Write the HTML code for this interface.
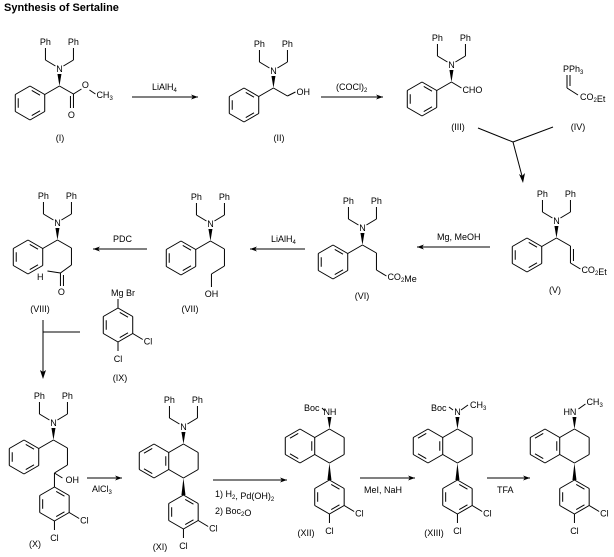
<!DOCTYPE html>
<html><head><meta charset="utf-8"><style>
html,body{margin:0;padding:0;background:#fff;}
svg{display:block;}
text{font-family:"Liberation Sans",sans-serif;font-size:9px;fill:#000;}
</style></head><body>
<svg id="s" width="614" height="557" xmlns="http://www.w3.org/2000/svg">
<text x="4" y="11" style="font-weight:bold;font-size:11px">Synthesis of Sertaline</text>
</svg>
<script>
const S=document.getElementById('s');const NS='http://www.w3.org/2000/svg';
function el(t,a,txt){const e=document.createElementNS(NS,t);for(const k in a)e.setAttribute(k,a[k]);if(txt!==undefined)e.innerHTML=txt;S.appendChild(e);return e;}
function L(x1,y1,x2,y2,w){el('line',{x1,y1,x2,y2,stroke:'#000','stroke-width':w||1});}
function PL(pts){for(let i=0;i<pts.length-1;i++)L(pts[i][0],pts[i][1],pts[i+1][0],pts[i+1][1]);}
function T(x,y,s,a){el('text',{x,y,'text-anchor':a||'start'},s);}
function sub(s){return '<tspan font-size="6" dy="2">'+s+'</tspan><tspan dy="-2"></tspan>';}
const R=17,H=R*Math.sqrt(3)/2;
function hexV(cx,cy){const v=[];for(let i=0;i<6;i++){const a=(-90+60*i)*Math.PI/180;v.push([cx+R*Math.cos(a),cy+R*Math.sin(a)]);}return v;}
function hex(cx,cy,inner,skip){const v=hexV(cx,cy);for(let i=0;i<6;i++){if(skip&&skip.includes(i))continue;const a=v[i],b=v[(i+1)%6];L(a[0],a[1],b[0],b[1]);}
 (inner||[]).forEach(i=>{const a=v[i],b=v[(i+1)%6];const f=0.2;let a2=[a[0]+(cx-a[0])*f,a[1]+(cy-a[1])*f],b2=[b[0]+(cx-b[0])*f,b[1]+(cy-b[1])*f];const t=0.15;const dx=b2[0]-a2[0],dy=b2[1]-a2[1];L(a2[0]+dx*t,a2[1]+dy*t,b2[0]-dx*t,b2[1]-dy*t);});return v;}
function wedge(x1,y1,x2,y2,w){const dx=x2-x1,dy=y2-y1,l=Math.hypot(dx,dy),nx=-dy/l*w/2,ny=dx/l*w/2;el('polygon',{points:`${x1},${y1} ${x2+nx},${y2+ny} ${x2-nx},${y2-ny}`,fill:'#000'});}
function dibenzyl(nx,ny){T(nx,ny+3,'N','middle');PL([[nx-4,ny-3],[nx-14,ny-9],[nx-14,ny-21]]);PL([[nx+4,ny-3],[nx+14,ny-9],[nx+14,ny-21]]);T(nx-14,ny-24,'Ph','middle');T(nx+14,ny-24,'Ph','middle');}
function stereo(cx,cy){hex(cx,cy,[0,2,4]);const C=[cx+2*H,cy-R];L(cx+H,cy-R/2,C[0],C[1]);wedge(C[0],C[1],C[0],C[1]-12,4);dibenzyl(C[0],C[1]-17);return C;}
function arrow(x1,y,x2){L(x1,y,x2,y);const d=x2>x1?1:-1;el('polygon',{points:`${x2},${y} ${x2-7*d},${y-2.5} ${x2-5*d},${y} ${x2-7*d},${y+2.5}`,fill:'#000'});}
function dcp(cx,top){const cy=top+R;const v=hex(cx,cy,[0,2,4]);L(v[2][0],v[2][1],v[2][0]+10,v[2][1]+6);T(v[2][0]+11,v[2][1]+11,'Cl');L(v[3][0],v[3][1],v[3][0],v[3][1]+9);T(v[3][0],v[3][1]+20,'Cl','middle');}
function fused(cx,cy){hex(cx,cy,[5,3,1]);const v=hexV(cx+2*H,cy);hex(cx+2*H,cy,[],[4]);return [v[0],v[3]];}
// I
let C=stereo(30,103);PL([[C[0],C[1]],[C[0]+14,C[1]+8]]);let E=[C[0]+14,C[1]+8];L(E[0],E[1],E[0],E[1]+14);L(E[0]-3,E[1]+2,E[0]-3,E[1]+14);T(E[0]-2,E[1]+24,'O','middle');L(E[0],E[1],E[0]+8,E[1]-5);T(E[0]+12,E[1]-6,'O','middle');L(E[0]+16,E[1]-4,E[0]+22,E[1]);T(E[0]+23,E[1]+4,'CH'+sub('3'));
T(60,141,'(I)','middle');
arrow(132,97,198);T(152,90,'LiAlH'+sub('4'));
// II
C=stereo(244,105);PL([[C[0],C[1]],[C[0]+14,C[1]+8],[C[0]+22,C[1]+4]]);T(C[0]+23,C[1]+7,'OH');T(279,141,'(II)','middle');
arrow(321,97,383);T(336,90,'(COCl)'+sub('2'));
// III
C=stereo(422,99);L(C[0],C[1],C[0]+10,C[1]+6);T(C[0]+11,C[1]+11,'CHO');T(458,130,'(III)','middle');
// IV
T(563,72,'PPh'+sub('3'));L(567,75,567,88);L(570,75,570,86);L(567,88,578,95);T(580,100,'CO'+sub('2')+'Et');T(578,130,'(IV)','middle');
// converging
L(478,128,513,142);L(553,127,513,142);L(513,142,522,176);el('polygon',{points:'523,183 519,174 522,176 525,173',fill:'#000'});
// V
C=stereo(527,255);PL([[C[0],C[1]],[C[0]+14,C[1]+8],[C[0]+14,C[1]+25],[C[0]+24,C[1]+31]]);L(C[0]+17,C[1]+11,C[0]+17,C[1]+23);T(C[0]+25,C[1]+35,'CO'+sub('2')+'Et');T(555,293,'(V)','middle');
arrow(490,247,417);T(437,240,'Mg,  MeOH');
// VI
C=stereo(333,262);PL([[C[0],C[1]],[C[0]+14,C[1]+8],[C[0]+14,C[1]+25],[C[0]+24,C[1]+31]]);T(C[0]+25,C[1]+35,'CO'+sub('2')+'Me');T(362,299,'(VI)','middle');
arrow(305,249,250);T(271,242,'LiAlH'+sub('4'));
// VII
C=stereo(181,258);PL([[C[0],C[1]],[C[0]+14,C[1]+8],[C[0]+14,C[1]+25],[C[0]+1,C[1]+33],[C[0]+1,C[1]+46]]);T(C[0]+1,C[1]+56,'OH','middle');T(190,312,'(VII)','middle');
arrow(147,249,93);T(113,242,'PDC');
// VIII
C=stereo(28,257);PL([[C[0],C[1]],[C[0]+14,C[1]+8],[C[0]+14,C[1]+25],[C[0]+3,C[1]+33]]);let A=[C[0]+3,C[1]+33];L(A[0],A[1],A[0],A[1]+13);L(A[0]+3,A[1]+2,A[0]+3,A[1]+13);T(A[0]+1,A[1]+22,'O','middle');L(A[0],A[1],A[0]-13,A[1]-2);T(37,280,'H');T(40,312,'(VIII)','middle');
// IX
T(111,296,'Mg Br');L(118,299,118,308);dcp(118,308);T(120,381,'(IX)','middle');
L(43,320,43,372);L(43,332,80,332);el('polygon',{points:'43,379 40,370 43,372 46,370',fill:'#000'});
// X
C=stereo(24,457);PL([[C[0],C[1]],[C[0]+14,C[1]+8],[C[0]+14,C[1]+25],[C[0]+1,C[1]+33]]);L(C[0]+1,C[1]+33,C[0]+9,C[1]+38);T(C[0]+12,C[1]+43,'OH');L(C[0]+1,C[1]+33,C[0]+1,C[1]+47);dcp(C[0]+1,C[1]+47);T(35,547,'(X)','middle');
arrow(87,478,122);T(92,492,'AlCl'+sub('3'));
// XI
let f=fused(154,461);wedge(f[0][0],f[0][1],f[0][0],f[0][1]-12,4);dibenzyl(f[0][0],f[0][1]-17);wedge(f[1][0],f[1][1],f[1][0],f[1][1]+17,4);dcp(f[1][0],f[1][1]+17);T(160,550,'(XI)','middle');
arrow(213,480,287);T(215,497,'1) H'+sub('2')+', Pd(OH)'+sub('2'));T(215,514,'2) Boc'+sub('2')+'O');
// XII
f=fused(300,446);wedge(f[0][0],f[0][1],f[0][0],f[0][1]-12,4);T(f[0][0]-6,f[0][1]-14,'NH');T(304,411,'Boc');L(322,408,325,411);wedge(f[1][0],f[1][1],f[1][0],f[1][1]+17,4);dcp(f[1][0],f[1][1]+17);T(306,536,'(XII)','middle');
arrow(360,478,415);T(364,493,'MeI,  NaH');
// XIII
f=fused(428,446);wedge(f[0][0],f[0][1],f[0][0],f[0][1]-12,4);T(f[0][0],f[0][1]-14,'N','middle');T(431,411,'Boc');L(449,407,453,410);L(461,410,468,405);T(470,408,'CH'+sub('3'));wedge(f[1][0],f[1][1],f[1][0],f[1][1]+17,4);dcp(f[1][0],f[1][1]+17);T(434,536,'(XIII)','middle');
arrow(487,478,530);T(497,493,'TFA');
// final
f=fused(545,446);wedge(f[0][0],f[0][1],f[0][0],f[0][1]-12,4);T(f[0][0]-11,f[0][1]-14,'HN');L(f[0][0]+4,f[0][1]-20,f[0][0]+11,f[0][1]-25);T(f[0][0]+12,f[0][1]-24,'CH'+sub('3'));wedge(f[1][0],f[1][1],f[1][0],f[1][1]+17,4);dcp(f[1][0],f[1][1]+17);
</script>
</body></html>
